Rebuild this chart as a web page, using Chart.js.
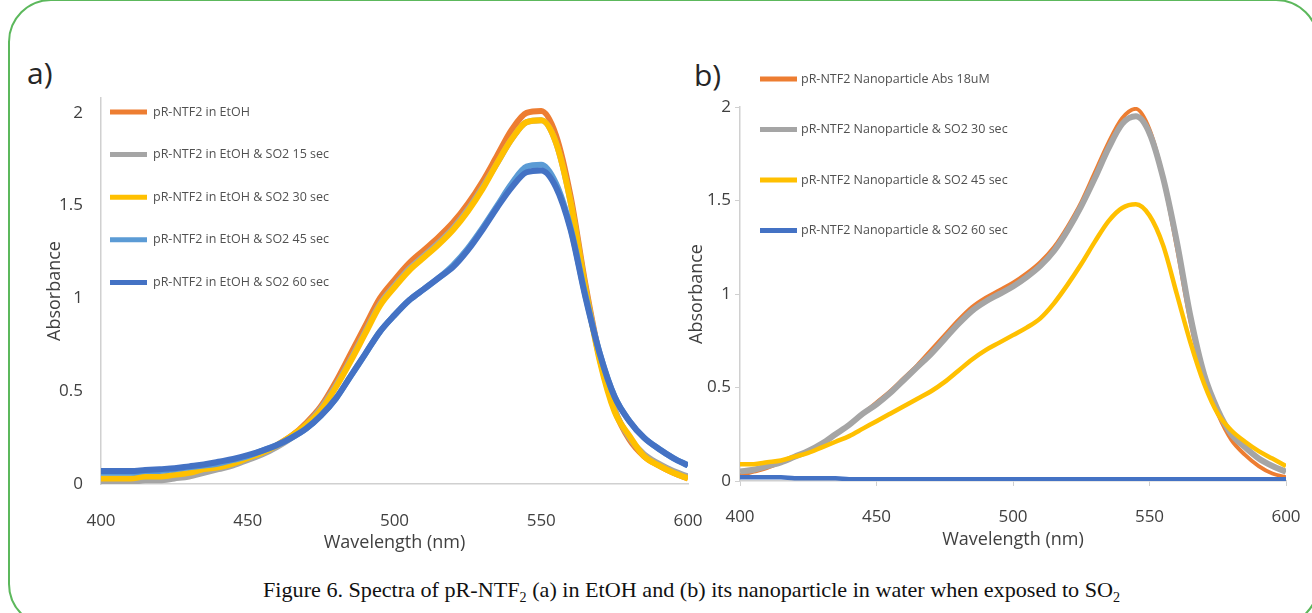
<!DOCTYPE html>
<html>
<head>
<meta charset="utf-8">
<script src="https://cdn.jsdelivr.net/npm/chart.js@4.4.0/dist/chart.umd.min.js"></script>
<style>
  body { margin: 0; width: 1312px; height: 613px; background: #fff; position: relative; overflow: hidden; font-family: 'Open Sans', sans-serif; }
  .frame { position: absolute; left: 8px; top: -1px; width: 1307px; height: 624px; border: 2px solid #5cb85c; border-radius: 43px; }
  .panel { position: absolute; font-size: 30px; line-height: 1; color: #262626; }
  #wrapA { position: absolute; left: 0; top: 60px; }
  #wrapB { position: absolute; left: 660px; top: 60px; }
  .caption { position: absolute; left: 263px; top: 577px; font-family: 'Liberation Serif', serif; font-size: 22px; color: #111; white-space: nowrap; transform-origin: left top; }
  .caption sub { font-size: 14px; }
</style>
</head>
<body>
<div class="frame"></div>
<div class="panel" style="left:27px; top:58px;">a)</div>
<div class="panel" style="left:694px; top:60px;">b)</div>
<div id="wrapA"><canvas id="chartA" width="720" height="500"></canvas></div>
<div id="wrapB"><canvas id="chartB" width="652" height="500"></canvas></div>
<div class="caption" id="caption">Figure 6. Spectra of pR-NTF<sub>2</sub> (a) in EtOH and (b) its nanoparticle in water when exposed to SO<sub>2</sub></div>

<script>
// wavelength grid (nm)
const wavelengths = [400, 405, 410, 415, 420, 425, 430, 435, 440, 445, 450, 455, 460, 465, 470, 475, 480, 485, 490, 495,
  500, 505, 510, 515, 520, 525, 530, 535, 540, 545, 550, 555, 560, 565, 570, 575, 580, 585, 590, 595, 600];

const xTicks = [400, 450, 500, 550, 600];
const yTicks = [0, 0.5, 1, 1.5, 2];

// a) pR-NTF2 in EtOH
const labelsA = ['pR-NTF2 in EtOH', 'pR-NTF2 in EtOH & SO2 15 sec', 'pR-NTF2 in EtOH & SO2 30 sec',
  'pR-NTF2 in EtOH & SO2 45 sec', 'pR-NTF2 in EtOH & SO2 60 sec'];
const ethOH = [0.02, 0.02, 0.02, 0.03, 0.03, 0.04, 0.05, 0.07, 0.09, 0.11, 0.14, 0.17, 0.21, 0.26, 0.33, 0.42, 0.55, 0.70, 0.85, 1.00,
  1.10, 1.19, 1.26, 1.33, 1.41, 1.51, 1.63, 1.77, 1.91, 2.00, 2.01, 1.88, 1.55, 1.08, 0.68, 0.40, 0.24, 0.15, 0.10, 0.06, 0.03];
const ethOH15 = [0.01, 0.01, 0.01, 0.02, 0.02, 0.03, 0.04, 0.06, 0.08, 0.10, 0.13, 0.16, 0.20, 0.25, 0.32, 0.41, 0.53, 0.67, 0.82, 0.97,
  1.07, 1.16, 1.23, 1.30, 1.38, 1.48, 1.60, 1.73, 1.86, 1.95, 1.96, 1.84, 1.52, 1.06, 0.67, 0.40, 0.25, 0.16, 0.11, 0.07, 0.04];
const ethOH30 = [0.03, 0.03, 0.03, 0.04, 0.04, 0.05, 0.06, 0.08, 0.09, 0.11, 0.14, 0.17, 0.21, 0.26, 0.32, 0.40, 0.52, 0.66, 0.81, 0.96,
  1.06, 1.15, 1.22, 1.29, 1.37, 1.47, 1.59, 1.73, 1.86, 1.95, 1.96, 1.84, 1.52, 1.06, 0.66, 0.39, 0.26, 0.15, 0.10, 0.06, 0.03];
const ethOH45 = [0.06, 0.06, 0.06, 0.07, 0.07, 0.08, 0.09, 0.10, 0.11, 0.13, 0.15, 0.18, 0.21, 0.25, 0.30, 0.37, 0.46, 0.58, 0.70, 0.82,
  0.91, 0.99, 1.05, 1.11, 1.18, 1.27, 1.38, 1.50, 1.62, 1.71, 1.72, 1.62, 1.38, 1.02, 0.70, 0.47, 0.34, 0.25, 0.19, 0.14, 0.10];
const ethOH60 = [0.07, 0.07, 0.07, 0.075, 0.08, 0.085, 0.095, 0.105, 0.12, 0.135, 0.155, 0.18, 0.21, 0.25, 0.30, 0.37, 0.46, 0.58, 0.70, 0.82,
  0.91, 0.99, 1.05, 1.11, 1.17, 1.26, 1.37, 1.49, 1.60, 1.68, 1.69, 1.60, 1.37, 1.01, 0.70, 0.47, 0.34, 0.25, 0.19, 0.14, 0.10];

// b) nanoparticle in water
const labelsB = ['pR-NTF2 Nanoparticle Abs 18uM', 'pR-NTF2 Nanoparticle & SO2 30 sec',
  'pR-NTF2 Nanoparticle & SO2 45 sec', 'pR-NTF2 Nanoparticle & SO2 60 sec'];
const nano = [0.03, 0.05, 0.07, 0.10, 0.13, 0.16, 0.20, 0.25, 0.30, 0.36, 0.42, 0.48, 0.55, 0.62, 0.70, 0.78, 0.86, 0.93, 0.98, 1.02,
  1.06, 1.11, 1.17, 1.25, 1.36, 1.49, 1.65, 1.81, 1.94, 1.99, 1.88, 1.62, 1.25, 0.85, 0.55, 0.36, 0.22, 0.14, 0.08, 0.04, 0.02];
const nano30 = [0.05, 0.06, 0.08, 0.10, 0.13, 0.16, 0.20, 0.25, 0.30, 0.36, 0.41, 0.47, 0.54, 0.61, 0.68, 0.76, 0.84, 0.91, 0.96, 1.00,
  1.04, 1.09, 1.15, 1.23, 1.34, 1.47, 1.62, 1.78, 1.91, 1.95, 1.86, 1.62, 1.28, 0.88, 0.57, 0.38, 0.25, 0.18, 0.12, 0.08, 0.05];
const nano45 = [0.09, 0.09, 0.10, 0.11, 0.13, 0.15, 0.18, 0.21, 0.24, 0.28, 0.32, 0.36, 0.40, 0.44, 0.48, 0.53, 0.59, 0.65, 0.70, 0.74,
  0.78, 0.82, 0.87, 0.95, 1.05, 1.16, 1.28, 1.39, 1.46, 1.48, 1.42, 1.26, 1.00, 0.74, 0.52, 0.36, 0.27, 0.21, 0.16, 0.12, 0.08];
const nano60 = [0.02, 0.02, 0.02, 0.02, 0.015, 0.015, 0.015, 0.015, 0.01, 0.01, 0.01, 0.01, 0.01, 0.01, 0.01, 0.01, 0.01, 0.01, 0.01, 0.01,
  0.01, 0.01, 0.01, 0.01, 0.01, 0.01, 0.01, 0.01, 0.01, 0.01, 0.01, 0.01, 0.01, 0.01, 0.01, 0.01, 0.01, 0.01, 0.01, 0.01, 0.01];

const colorsA = ['#ED7D31', '#A5A5A5', '#FFC000', '#5B9BD5', '#4472C4'];
const colorsB = ['#ED7D31', '#A5A5A5', '#FFC000', '#4472C4'];

// legend drawn inside the plot, one entry per row
const insideLegend = {
    id: 'insideLegend',
    afterDatasetsDraw(chart, args, opts) {
        const ctx = chart.ctx;
        const area = chart.chartArea;
        ctx.save();
        ctx.font = opts.font;
        ctx.textBaseline = 'middle';
        chart.data.datasets.forEach(function (ds, i) {
            let x = area.left + opts.left;
            let y = area.top + opts.top + i * opts.gap;
            ctx.strokeStyle = ds.borderColor;
            ctx.lineWidth = opts.lineWidth;
            ctx.beginPath();
            ctx.moveTo(x, y);
            ctx.lineTo(x + opts.lineLen, y);
            ctx.stroke();
            ctx.fillStyle = opts.color;
            ctx.fillText(ds.label, x + opts.lineLen + opts.textGap, y);
        });
        ctx.restore();
    }
};

function makeDatasets(labels, series, colors, widths) {
    return series.map(function (vals, i) {
        return {
            label: labels[i],
            data: wavelengths.map(function (w, j) { return { x: w, y: vals[j] }; }),
            borderColor: colors[i],
            borderWidth: widths[i],
            pointRadius: 0,
            cubicInterpolationMode: 'monotone',
            order: series.length - i
        };
    });
}

const tickFont = { family: 'Open Sans', size: 17 };
const titleFont = { family: 'Open Sans', size: 18 };

function drawChart(id, datasets, cfg) {
    new Chart(document.getElementById(id), {
        type: 'line',
        data: { datasets: datasets },
        plugins: [insideLegend],
        options: {
            responsive: false,
            animation: false,
            layout: { padding: { top: cfg.padTop, right: cfg.padRight, left: 0, bottom: 0 } },
            plugins: {
                legend: { display: false },
                tooltip: { enabled: false },
                insideLegend: cfg.legend
            },
            scales: {
                x: {
                    type: 'linear',
                    min: 400,
                    max: 600,
                    afterBuildTicks: function (scale) { scale.ticks = xTicks.map(function (v) { return { value: v }; }); },
                    afterFit: function (scale) {
                        // fixed axis height, and no extra side padding from the tick padding
                        scale.height = cfg.xHeight;
                        scale.paddingLeft = 0;
                        scale.paddingRight = 0;
                    },
                    grid: { display: cfg.tickMarks, drawOnChartArea: false, drawTicks: cfg.tickMarks, tickLength: 5, color: '#d0d0d0' },
                    border: { display: true, color: '#d0d0d0', width: 1.5 },
                    ticks: { font: tickFont, color: '#404040', padding: cfg.xTickPad, maxRotation: 0, callback: function (v) { return String(v); } },
                    title: { display: true, text: 'Wavelength (nm)', font: titleFont, color: '#404040', padding: { top: 0, bottom: cfg.xTitlePad } }
                },
                y: {
                    min: 0,
                    max: cfg.yMax,
                    afterBuildTicks: function (scale) { scale.ticks = yTicks.map(function (v) { return { value: v }; }); },
                    afterFit: function (scale) { scale.width = cfg.yWidth; },
                    grid: { display: cfg.tickMarks, drawOnChartArea: false, drawTicks: cfg.tickMarks, tickLength: 5, color: '#d0d0d0' },
                    border: { display: true, color: '#d0d0d0', width: 1.5 },
                    ticks: { font: tickFont, color: '#404040', padding: cfg.yTickPad, callback: function (v) { return String(v); } },
                    title: { display: true, text: 'Absorbance', font: titleFont, color: '#404040', padding: { top: cfg.yTitlePad, bottom: 0 } }
                }
            }
        }
    });
}

drawChart('chartA', makeDatasets(labelsA, [ethOH, ethOH15, ethOH30, ethOH45, ethOH60], colorsA, [6, 6, 6, 6, 6]), {
    padTop: 38, padRight: 32, xHeight: 76, yWidth: 101, yMax: 2.08, tickMarks: false,
    xTickPad: 27, xTitlePad: 6, yTickPad: 18, yTitlePad: 44,
    legend: { left: 9, top: 14, gap: 42.6, lineLen: 37, lineWidth: 5, textGap: 6, font: '12.5px "Open Sans"', color: '#505050' }
});

drawChart('chartB', makeDatasets(labelsB, [nano, nano30, nano45, nano60], colorsB, [4, 6, 4.5, 4.5]), {
    padTop: 47, padRight: 26, xHeight: 79, yWidth: 80, yMax: 2, tickMarks: true,
    xTickPad: 21, xTitlePad: 9, yTickPad: 4, yTitlePad: 26,
    legend: { left: 20, top: -28, gap: 50.5, lineLen: 37, lineWidth: 5, textGap: 4, font: '12.5px "Open Sans"', color: '#505050' }
});

// squeeze the caption to the width it has in the figure
const caption = document.getElementById('caption');
caption.style.transform = 'scaleX(' + (857 / caption.offsetWidth) + ')';
</script>
</body>
</html>
